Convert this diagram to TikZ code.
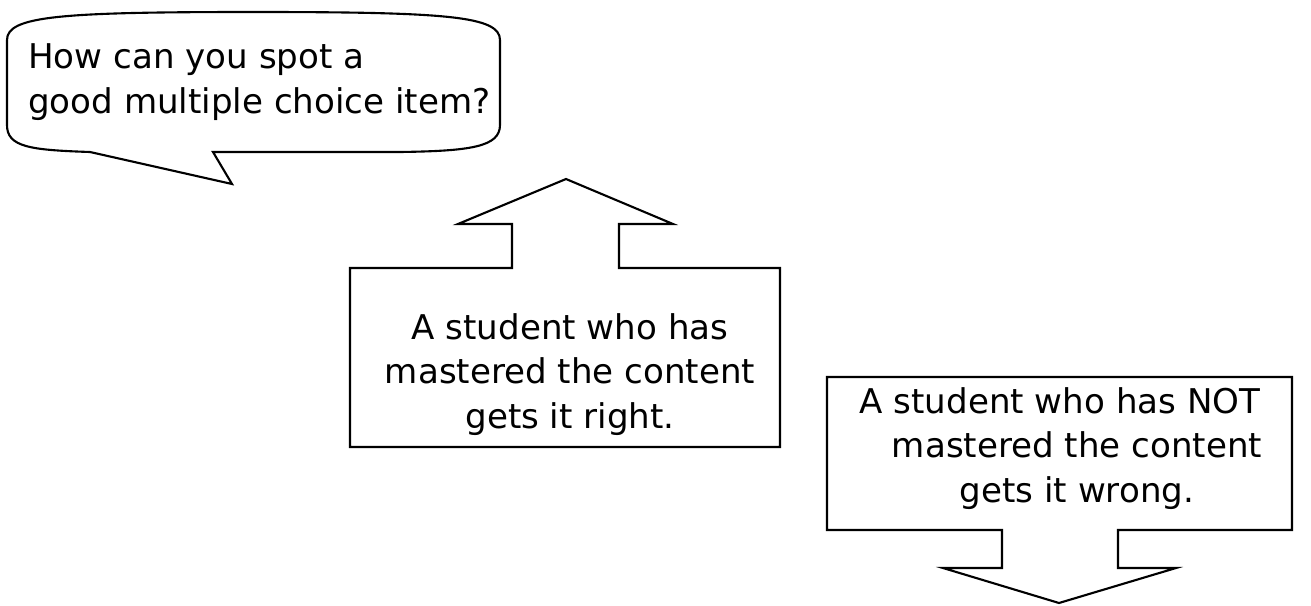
\documentclass[tikz,border=0pt]{standalone}
\usepackage{fontspec}
\setmainfont{DejaVu Sans}
\usetikzlibrary{positioning}

\tikzset{
  outline/.style={draw=black, line width=1.2pt, line join=miter},
  saying/.style={inner sep=0pt, font=\fontsize{19.4}{25.3}\selectfont},
}

\begin{document}
\begin{tikzpicture}[x=0.02cm, y=-0.02cm]
\useasboundingbox (0,0) rectangle (1311,605);

\draw[outline] (90,152) .. controls (30,150) and (7,147) .. (7,125)
  -- (7,40) .. controls (7,16) and (60,12) .. (253,12)
  .. controls (446,12) and (500,16) .. (500,40)
  -- (500,125) .. controls (500,147) and (470,151) .. (400,152)
  -- (213,152) -- (232,184) -- cycle;

\draw[outline] (350,268) -- (512,268) -- (512,224) -- (458,224) -- (566,179)
  -- (673,224) -- (619,224) -- (619,268) -- (780,268) -- (780,447)
  -- (350,447) -- cycle;

\draw[outline] (827,377) -- (1292,377) -- (1292,530) -- (1118,530)
  -- (1118,568) -- (1176,568) -- (1059,603) -- (943,568) -- (1002,568)
  -- (1002,530) -- (827,530) -- cycle;

\node[saying, align=left, anchor=base west] (question) at (28,113)
  {How can you spot a\\good multiple choice item?};
\node[saying, align=center, anchor=base] (rightans) at (570,428)
  {A student who has\\mastered the content\\gets it right.};
\node[saying, align=center, anchor=base] (wrongans) at (1077,502)
  {A student who has NOT\hspace*{0.68cm}\\mastered the content\\gets it wrong.};

\end{tikzpicture}
\end{document}
